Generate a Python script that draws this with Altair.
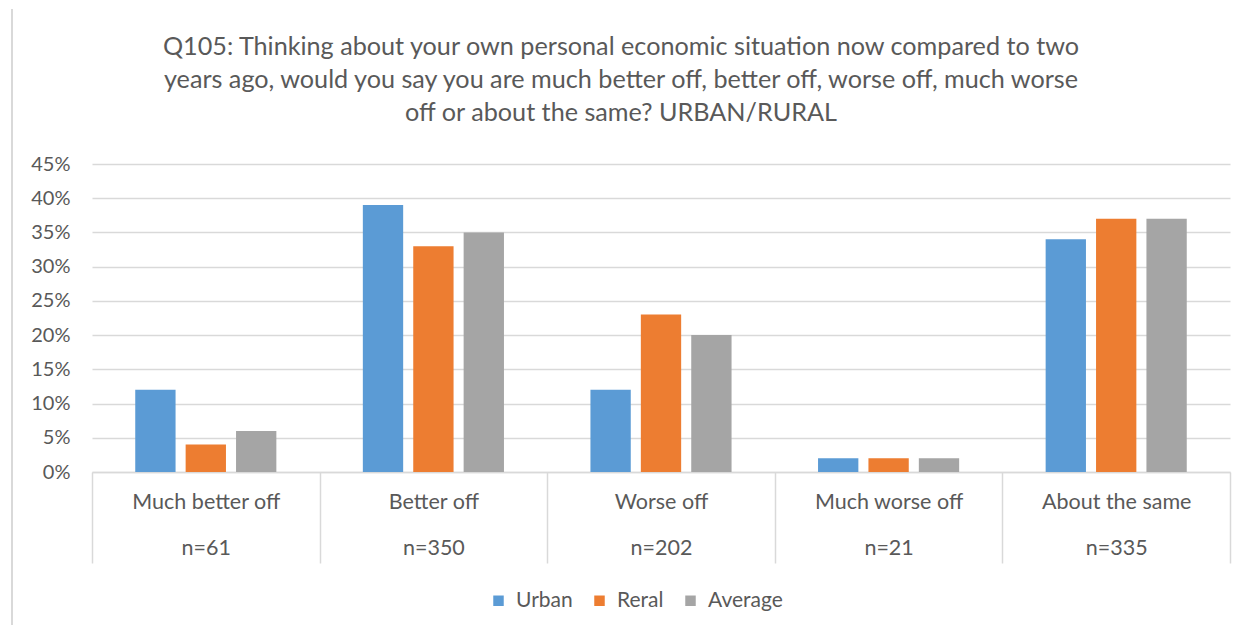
import altair as alt
import pandas as pd

categories = ["Much better off", "Better off", "Worse off", "Much worse off", "About the same"]
n_labels = ["n=61", "n=350", "n=202", "n=21", "n=335"]
series = ["Urban", "Reral", "Average"]
urban = [12, 39, 12, 2, 34]
reral = [4, 33, 23, 2, 37]
average = [6, 35, 20, 2, 37]
colors = ["#5b9bd5", "#ed7d31", "#a5a5a5"]
title_lines = [
    "Q105: Thinking about your own personal economic situation now compared to two",
    "years ago, would you say you are much better off, better off, worse off, much worse",
    "off or about the same? URBAN/RURAL",
]

cat_keys = [f"{c}|{n}" for c, n in zip(categories, n_labels)]
rows = []
for s, vals in zip(series, [urban, reral, average]):
    for k, v in zip(cat_keys, vals):
        rows.append({"cat": k, "series": s, "value": v / 100})
df = pd.DataFrame(rows)

FONT = "Lato"
TXT = "#595959"
GRID = "#d9d9d9"

bars = alt.Chart(df).mark_bar().encode(
    x=alt.X("cat:N", sort=cat_keys, title=None,
            scale=alt.Scale(paddingInner=0, paddingOuter=0),
            axis=alt.Axis(labelExpr="split(datum.label, '|')", labelAngle=0,
                          labelLineHeight=46, labelFontSize=21.5, labelColor=TXT,
                          labelFont=FONT, labelBaseline="top",
                          tickBand="extent", tickSize=91, tickColor=GRID, tickWidth=1.5,
                          domainColor=GRID, domainWidth=1.5, labelPadding=-72)),
    xOffset=alt.XOffset("series:N", sort=series,
                        scale=alt.Scale(paddingInner=0.2, paddingOuter=0.858)),
    y=alt.Y("value:Q", title=None,
            scale=alt.Scale(domain=[0, 0.45]),
            axis=alt.Axis(format=".0%", values=[i / 100 for i in range(0, 50, 5)],
                          domain=False, ticks=False, labelFontSize=20, labelColor=TXT,
                          labelFont=FONT, labelPadding=22, gridColor=GRID, gridWidth=1.3)),
    color=alt.Color("series:N", sort=series,
                    scale=alt.Scale(domain=series, range=colors),
                    legend=alt.Legend(title=None, orient="none", legendX=396, legendY=426,
                                      direction="horizontal", symbolType="square",
                                      symbolSize=110, symbolStrokeWidth=0,
                                      labelFontSize=21, labelColor=TXT, labelFont=FONT,
                                      columnPadding=16, labelOffset=7)),
)

border = alt.Chart(pd.DataFrame({"a": [0]})).mark_rule(color=GRID, strokeWidth=2).encode(
    x=alt.value(-80), y=alt.value(-155), y2=alt.value(470)
)

chart = alt.layer(border, bars).properties(
    width=1138, height=308,
    autosize=alt.AutoSizeParams(type="none"),
    padding={"left": 84, "top": 156, "right": 10, "bottom": 153},
    title=alt.TitleParams(title_lines, fontSize=25.2, lineHeight=33, color=TXT, font=FONT,
                          fontWeight="normal", anchor="middle", dx=-40, offset=-118),
).configure_view(stroke=None)

chart.save("out.html", embed_options={"renderer": "svg", "actions": False})
